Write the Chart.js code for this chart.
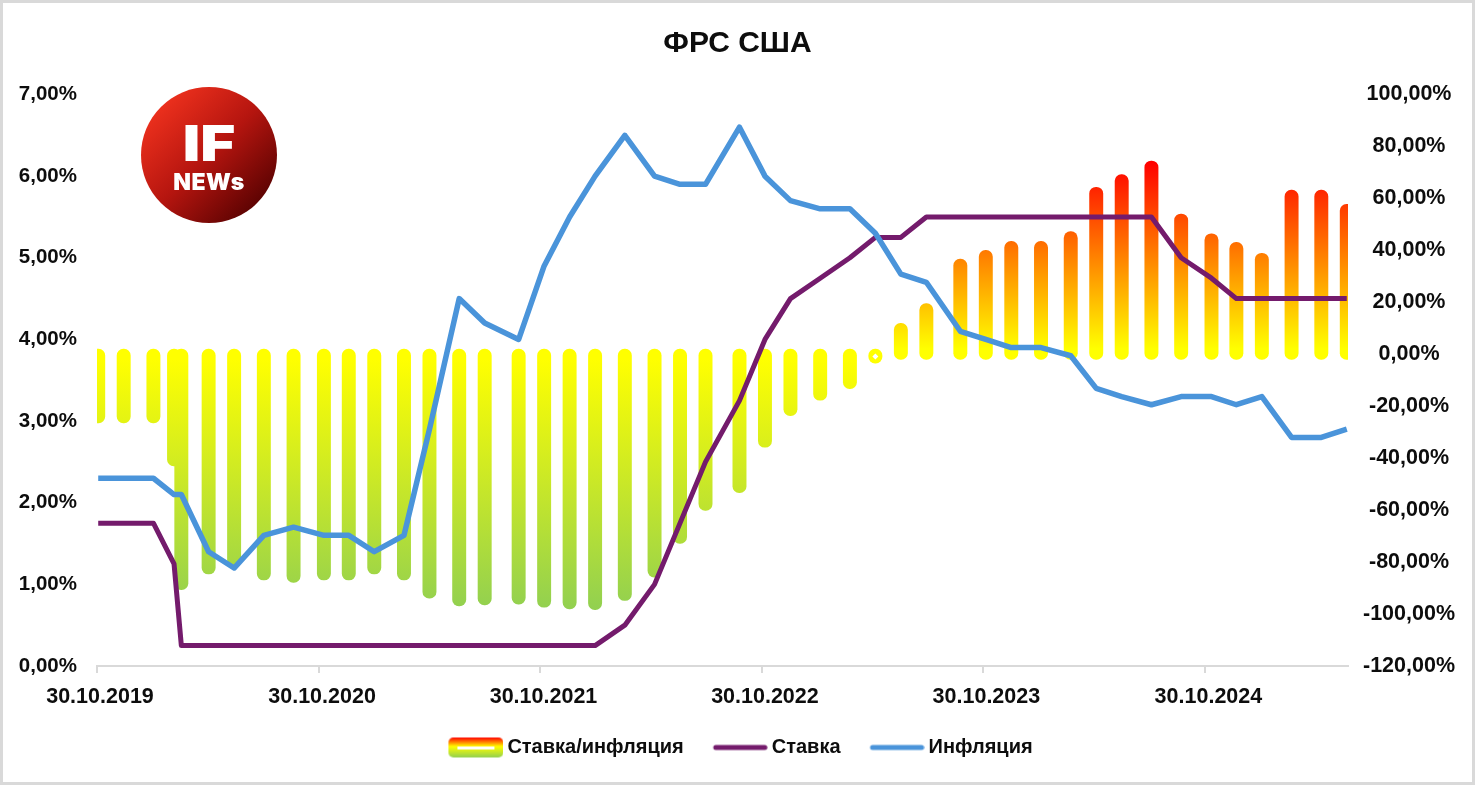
<!DOCTYPE html>
<html>
<head>
<meta charset="utf-8">
<title>ФРС США</title>
<script src="https://cdn.jsdelivr.net/npm/chart.js@4"></script>
<style>
    html, body { margin: 0; padding: 0; background: #fff; }
    #wrap { position: relative; width: 1475px; height: 785px; overflow: hidden; }
    #frame { position: absolute; inset: 0; border: 3px solid #d9d9d9; box-sizing: border-box; pointer-events: none; }
    #logo {
        position: absolute; left: 141px; top: 87px; width: 136px; height: 136px; border-radius: 50%;
        background: linear-gradient(135deg, #f5341f 8%, #b5150f 50%, #4f0000 92%);
        color: #fff; font-family: Inter, "Open Sans", sans-serif; font-weight: 900; text-align: center;
    }
    #logo .big { position: absolute; left: 0; right: 0; top: 31px; font-size: 50px; line-height: 50px; transform: scaleX(1.2); }
    #logo .small { position: absolute; left: 0; right: 0; top: 83px; font-size: 23px; line-height: 24px; letter-spacing: 0.5px; }
</style>
</head>
<body>
<div id="wrap">
    <canvas id="chart" width="1475" height="785"></canvas>
    <div id="logo"><div class="big">IF</div><div class="small">NEWs</div></div>
    <div id="frame"></div>
</div>
<script>
// FOMC meeting dates
const meetingDates = [
    "2019-10-30", "2019-12-11", "2020-01-29", "2020-03-03", "2020-03-15", "2020-04-29", "2020-06-10", "2020-07-29",
    "2020-09-16", "2020-11-05", "2020-12-16", "2021-01-27", "2021-03-17", "2021-04-28", "2021-06-16", "2021-07-28",
    "2021-09-22", "2021-11-03", "2021-12-15", "2022-01-26", "2022-03-16", "2022-05-04", "2022-06-15", "2022-07-27",
    "2022-09-21", "2022-11-02", "2022-12-14", "2023-02-01", "2023-03-22", "2023-05-03", "2023-06-14", "2023-07-26",
    "2023-09-20", "2023-11-01", "2023-12-13", "2024-01-31", "2024-03-20", "2024-05-01", "2024-06-12", "2024-07-31",
    "2024-09-18", "2024-11-07", "2024-12-18", "2025-01-29", "2025-03-19", "2025-05-07", "2025-06-18"
];

// Left axis, %
const rateValues = [
    1.75, 1.75, 1.75, 1.25, 0.25, 0.25, 0.25, 0.25,
    0.25, 0.25, 0.25, 0.25, 0.25, 0.25, 0.25, 0.25,
    0.25, 0.25, 0.25, 0.25, 0.5, 1, 1.75, 2.5,
    3.25, 4, 4.5, 4.75, 5, 5.25, 5.25, 5.5,
    5.5, 5.5, 5.5, 5.5, 5.5, 5.5, 5.5, 5.5,
    5, 4.75, 4.5, 4.5, 4.5, 4.5, 4.5
];
const inflationValues = [
    2.3, 2.3, 2.3, 2.1, 2.1, 1.4, 1.2, 1.6,
    1.7, 1.6, 1.6, 1.4, 1.6, 2.9, 4.5, 4.2,
    4.0, 4.9, 5.5, 6.0, 6.5, 6.0, 5.9, 5.9,
    6.6, 6.0, 5.7, 5.6, 5.6, 5.3, 4.8, 4.7,
    4.1, 4.0, 3.9, 3.9, 3.8, 3.4, 3.3, 3.2,
    3.3, 3.3, 3.2, 3.3, 2.8, 2.8, 2.9
];

// Right axis, %
const ratioValues = [
    -23.9, -23.9, -23.9, -40.5, -88.1, -82.1, -79.2, -84.4,
    -85.3, -84.4, -84.4, -82.1, -84.4, -91.4, -94.4, -94.0,
    -93.7, -94.9, -95.5, -95.8, -92.3, -83.3, -70.3, -57.6,
    -50.8, -33.3, -21.1, -15.2, -10.7, -0.9, 9.4, 17.0,
    34.1, 37.5, 41.0, 41.0, 44.7, 61.8, 66.7, 71.9,
    51.5, 43.9, 40.6, 36.4, 60.7, 60.7, 55.2
];

// The one bar so short that its hollow middle shows
const hollowDates = ["2023-05-03"];
const hollowValues = [-0.9];

const tickDates = ["2019-10-28", "2020-10-28", "2021-10-28", "2022-10-28", "2023-10-28", "2024-10-28"];
const tickLabels = ["30.10.2019", "30.10.2020", "30.10.2021", "30.10.2022", "30.10.2023", "30.10.2024"];

const FONT = "'Liberation Sans', Arial, sans-serif";
const TEXT_COLOR = "#0d0d0d";
// Round bar ends stick out past the values, in right axis %
const CAP_START = 2;
const CAP_END = 2.5;

const toPoints = (values) => values.map((v, i) => ({ x: Date.parse(meetingDates[i]), y: v }));

// Bars start at zero but their round caps go a little past both ends
const barPoints = ratioValues.map((v, i) => ({
    x: Date.parse(meetingDates[i]),
    y: v < 0 ? [CAP_START, v - CAP_END] : [-CAP_START, v + CAP_END],
}));

// Gradient runs over the right axis: green below zero, yellow at zero, red on top
function barGradient(context) {
    const { chart } = context;
    const scale = chart.scales.y2;
    if (!scale) return "#ffff00";
    const top = scale.getPixelForValue(74);
    const bottom = scale.getPixelForValue(-98);
    const zero = scale.getPixelForValue(0);
    const mid = (zero - top) / (bottom - top);
    const gradient = chart.ctx.createLinearGradient(0, top, 0, bottom);
    gradient.addColorStop(0, "#ff0000");
    gradient.addColorStop(mid - 0.012, "#ffff00");
    gradient.addColorStop(mid + 0.012, "#ffff00");
    gradient.addColorStop(1, "#92d050");
    return gradient;
}

// Legend swatches, with a little empty space on the left
function makeSwatch(draw) {
    const canvas = document.createElement("canvas");
    canvas.width = 67;
    canvas.height = 22;
    const ctx = canvas.getContext("2d");
    ctx.translate(12, 0);
    draw(ctx);
    return canvas;
}

const barSwatch = makeSwatch((ctx) => {
    const gradient = ctx.createLinearGradient(0, 1, 0, 21);
    gradient.addColorStop(0, "#ff0000");
    gradient.addColorStop(0.45, "#ffff00");
    gradient.addColorStop(1, "#92d050");
    ctx.fillStyle = gradient;
    ctx.beginPath();
    ctx.roundRect(0, 1, 55, 20, 5);
    ctx.fill();
    ctx.fillStyle = "#fff";
    ctx.fillRect(9, 10, 37, 3);
});

const lineSwatch = (color) => makeSwatch((ctx) => {
    ctx.strokeStyle = color;
    ctx.lineWidth = 5;
    ctx.lineCap = "round";
    ctx.beginPath();
    ctx.moveTo(3, 11);
    ctx.lineTo(52, 11);
    ctx.stroke();
});

const RATE_COLOR = "#741b6c";
const INFLATION_COLOR = "#4a94da";

new Chart(document.getElementById("chart"), {
    data: {
        datasets: [
            {
                type: "line",
                label: "Инфляция",
                data: toPoints(inflationValues),
                yAxisID: "y",
                borderColor: INFLATION_COLOR,
                borderWidth: 5.5,
                borderJoinStyle: "round",
                pointRadius: 0,
                tension: 0,
                order: 1,
            },
            {
                type: "line",
                label: "Ставка",
                data: toPoints(rateValues),
                yAxisID: "y",
                borderColor: RATE_COLOR,
                borderWidth: 5,
                borderJoinStyle: "round",
                pointRadius: 0,
                tension: 0,
                order: 2,
            },
            {
                type: "scatter",
                label: "hollow",
                data: hollowDates.map((d, i) => ({ x: Date.parse(d), y: hollowValues[i] })),
                yAxisID: "y2",
                pointStyle: "rectRot",
                pointRadius: 3,
                pointBackgroundColor: "#fff",
                pointBorderWidth: 0,
                order: 3,
            },
            {
                type: "bar",
                label: "Ставка/инфляция",
                data: barPoints,
                yAxisID: "y2",
                backgroundColor: barGradient,
                barThickness: 13.3,
                borderRadius: 7,
                borderSkipped: false,
                order: 4,
            },
        ],
    },
    options: {
        responsive: false,
        animation: false,
        layout: { padding: { left: 0, right: 0, top: 0, bottom: 17.5 } },
        plugins: {
            tooltip: { enabled: false },
            title: {
                display: true,
                text: "ФРС США",
                color: TEXT_COLOR,
                font: { family: FONT, size: 30, weight: "bold", lineHeight: 1.2 },
                padding: { top: 26, bottom: 32.5 },
            },
            legend: {
                position: "bottom",
                labels: {
                    color: TEXT_COLOR,
                    font: { family: FONT, size: 20, weight: "bold" },
                    usePointStyle: true,
                    pointStyleWidth: 55,
                    padding: 23,
                    generateLabels: () => [
                        { text: "Ставка/инфляция", pointStyle: barSwatch, fontColor: TEXT_COLOR, datasetIndex: 3 },
                        { text: "Ставка", pointStyle: lineSwatch(RATE_COLOR), fontColor: TEXT_COLOR, datasetIndex: 1 },
                        { text: "Инфляция", pointStyle: lineSwatch(INFLATION_COLOR), fontColor: TEXT_COLOR, datasetIndex: 0 },
                    ],
                },
            },
        },
        scales: {
            x: {
                type: "linear",
                offset: false,
                min: Date.parse("2019-10-28"),
                max: Date.parse("2025-06-20"),
                afterBuildTicks: (axis) => {
                    axis.ticks = tickDates.map((d) => ({ value: Date.parse(d) }));
                },
                afterFit: (axis) => {
                    axis.height = 48.5;
                },
                grid: { display: true, offset: false, drawOnChartArea: false, drawTicks: true, tickLength: 7, color: "#d9d9d9", lineWidth: 2 },
                border: { display: true, color: "#d9d9d9", width: 2 },
                ticks: {
                    color: TEXT_COLOR,
                    font: { family: FONT, size: 21.5, weight: "bold" },
                    padding: 11,
                    labelOffset: 3,
                    maxRotation: 0,
                    autoSkip: false,
                    callback: (value, index) => tickLabels[index],
                },
            },
            y: {
                position: "left",
                min: 0,
                max: 7,
                afterFit: (axis) => {
                    axis.width = 97;
                },
                grid: { display: false },
                border: { display: false },
                ticks: {
                    stepSize: 1,
                    color: TEXT_COLOR,
                    font: { family: FONT, size: 20.5, weight: "bold" },
                    padding: 12,
                    callback: (value) => value.toFixed(2).replace(".", ",") + "%",
                },
            },
            y2: {
                position: "right",
                min: -120,
                max: 100,
                afterFit: (axis) => {
                    axis.width = 127;
                },
                grid: { display: false },
                border: { display: false },
                ticks: {
                    stepSize: 20,
                    color: TEXT_COLOR,
                    font: { family: FONT, size: 21.5, weight: "bold" },
                    padding: 7,
                    crossAlign: "center",
                    callback: (value) => value.toFixed(2).replace(".", ",") + "%",
                },
            },
        },
    },
});
</script>
</body>
</html>
